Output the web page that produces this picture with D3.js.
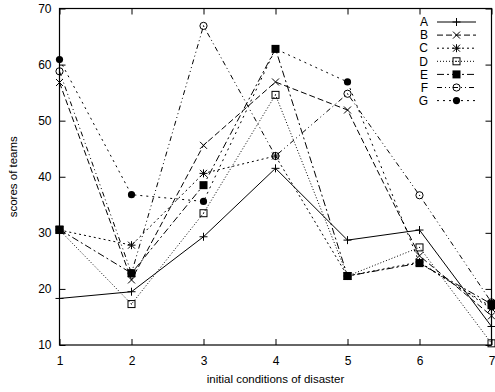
<!DOCTYPE html>
<html>
<head>
<meta charset="utf-8">
<script src="https://cdn.jsdelivr.net/npm/d3@7"></script>
<style>
  html, body { margin: 0; padding: 0; background: #fff; }
  svg { display: block; font-family: "Liberation Sans", Arial, Helvetica, sans-serif; }
</style>
</head>
<body>
<script>
// ---- data ----
const categories = [1, 2, 3, 4, 5, 6, 7];
const seriesNames = ["A", "B", "C", "D", "E", "F", "G"];
const A = [18.3, 19.5, 29.3, 41.5, 28.7, 30.5, 13.3];
const B = [56.8, 21.6, 45.6, 56.9, 51.9, 25.9, 15.2];
const C = [30.5, 27.8, 40.6, 43.7, 22.3, 24.8, 16.5];
const D = [30.5, 17.3, 33.5, 54.6, 22.3, 27.4, 10.3];
const E = [30.6, 22.8, 38.5, 62.8, 22.3, 24.6, 17.3];
const F = [58.8, 22.8, 66.9, 43.7, 54.8, 36.7, 17.6];
const G = [60.9, 36.8, 35.6, 62.8, 56.9, 24.6, 16.8];
const yTicks = [10, 20, 30, 40, 50, 60, 70];
const xTicks = [1, 2, 3, 4, 5, 6, 7];
const xLabel = "initial conditions of disaster";
const yLabel = "scores of teams";

const seriesValues = [A, B, C, D, E, F, G];

// ---- styles ----
const styles = [
  { dash: null,          marker: "plus" },
  { dash: "6,3",         marker: "cross" },
  { dash: "2,3",         marker: "star" },
  { dash: "1,2",         marker: "boxOpen" },
  { dash: "7,3,2,3",     marker: "boxFilled" },
  { dash: "5,3,1,3,1,3", marker: "circleOpen" },
  { dash: "2,4",         marker: "circleFilled" }
];

const W = 495, H = 392;
const m = { left: 59.5, right: 491.5, top: 8.5, bottom: 345 };

const svg = d3.select("body").append("svg").attr("width", W).attr("height", H);

const x = d3.scaleLinear().domain([1, 7]).range([m.left, m.right]);
const y = d3.scaleLinear().domain([10, 70]).range([m.bottom, m.top]);

// axes with inward ticks
const tick = 6;
const gL = svg.append("g").attr("transform", `translate(${m.left},0)`)
  .call(d3.axisLeft(y).tickValues(yTicks).tickSize(-tick).tickPadding(8).tickFormat(d3.format("d")));
const gR = svg.append("g").attr("transform", `translate(${m.right},0)`)
  .call(d3.axisRight(y).tickValues(yTicks).tickSize(-tick).tickFormat(""));
const gB = svg.append("g").attr("transform", `translate(0,${m.bottom})`)
  .call(d3.axisBottom(x).tickValues(xTicks).tickSize(-tick).tickPadding(11).tickFormat(d3.format("d")));
const gT = svg.append("g").attr("transform", `translate(0,${m.top})`)
  .call(d3.axisTop(x).tickValues(xTicks).tickSize(-tick).tickFormat(""));
[gL, gR, gB, gT].forEach(g => {
  g.select(".domain").remove();
  g.selectAll("line").attr("stroke", "#000").attr("stroke-width", 1);
  g.selectAll("text").attr("font-size", 12).attr("fill", "#000")
    .attr("font-family", "'Liberation Sans', Arial, sans-serif");
});

// frame
svg.append("rect")
  .attr("x", m.left).attr("y", m.top)
  .attr("width", m.right - m.left).attr("height", m.bottom - m.top)
  .attr("fill", "none").attr("stroke", "#000").attr("stroke-width", 1.2);

// axis labels
svg.append("text").attr("x", (m.left + m.right) / 2).attr("y", 383)
  .attr("text-anchor", "middle").attr("font-size", 11.5).text(xLabel);
svg.append("text")
  .attr("transform", `translate(13,${(m.top + m.bottom) / 2}) rotate(-90)`)
  .attr("text-anchor", "middle").attr("dy", "0.35em").attr("font-size", 11.5).text(yLabel);

// markers
function drawMarker(g, type, cx, cy) {
  const s = 4;
  if (type === "plus" || type === "star") {
    g.append("path").attr("d", `M${cx - s},${cy}H${cx + s}M${cx},${cy - s}V${cy + s}`)
      .attr("stroke", "#000").attr("stroke-width", 1).attr("fill", "none");
  }
  if (type === "cross" || type === "star") {
    const c = 3.5;
    g.append("path").attr("d", `M${cx - c},${cy - c}L${cx + c},${cy + c}M${cx - c},${cy + c}L${cx + c},${cy - c}`)
      .attr("stroke", "#000").attr("stroke-width", 1).attr("fill", "none");
  }
  if (type === "boxOpen") {
    g.append("rect").attr("x", cx - 3.5).attr("y", cy - 3.5).attr("width", 7).attr("height", 7)
      .attr("fill", "none").attr("stroke", "#000").attr("stroke-width", 1);
    g.append("rect").attr("x", cx - 0.5).attr("y", cy - 0.5).attr("width", 1).attr("height", 1).attr("fill", "#000");
  }
  if (type === "boxFilled") {
    g.append("rect").attr("x", cx - 4).attr("y", cy - 4).attr("width", 8).attr("height", 8)
      .attr("fill", "#000");
  }
  if (type === "circleOpen") {
    g.append("circle").attr("cx", cx).attr("cy", cy).attr("r", 3.6)
      .attr("fill", "none").attr("stroke", "#000").attr("stroke-width", 1);
    g.append("circle").attr("cx", cx).attr("cy", cy).attr("r", 0.6).attr("fill", "#000");
  }
  if (type === "circleFilled") {
    g.append("circle").attr("cx", cx).attr("cy", cy).attr("r", 3.6).attr("fill", "#000");
  }
}

const line = d3.line().x((d, i) => x(categories[i])).y(d => y(d));

seriesValues.forEach((vals, si) => {
  const st = styles[si];
  const g = svg.append("g");
  g.append("path").datum(vals).attr("d", line)
    .attr("fill", "none").attr("stroke", "#000").attr("stroke-width", 1)
    .attr("stroke-dasharray", st.dash);
  vals.forEach((v, i) => drawMarker(g, st.marker, x(categories[i]), y(v)));
});

// legend
const lg = svg.append("g");
seriesNames.forEach((name, i) => {
  const cy = 22 + i * 13.1;
  lg.append("text").attr("x", 428).attr("y", cy).attr("dy", "0.35em")
    .attr("text-anchor", "end").attr("font-size", 12).text(name);
  lg.append("path").attr("d", `M437,${cy}H476`)
    .attr("stroke", "#000").attr("stroke-width", 1).attr("fill", "none")
    .attr("stroke-dasharray", styles[i].dash);
  drawMarker(lg, styles[i].marker, 456.5, cy);
});
</script>
</body>
</html>
